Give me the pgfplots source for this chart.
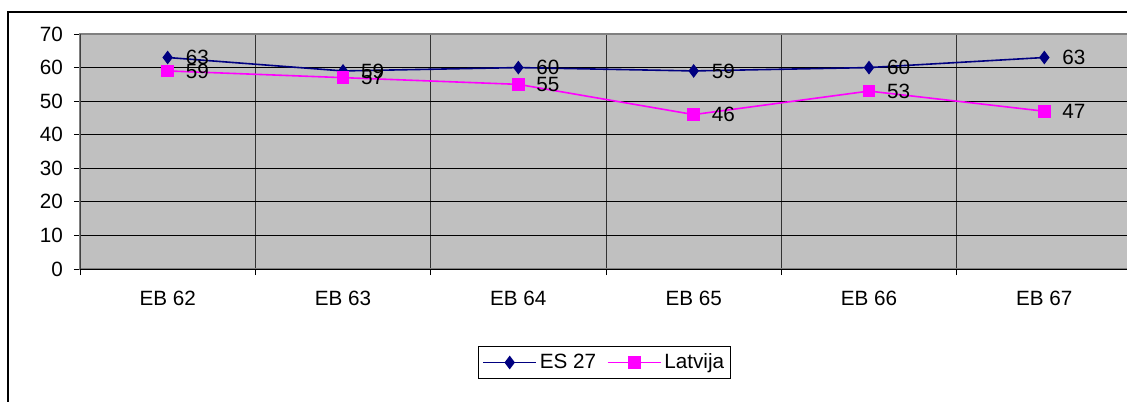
\documentclass[border=0pt]{standalone}
\usepackage{fontspec}
\setmainfont{Liberation Sans}
\usepackage{pgfplots}
\pgfplotsset{compat=1.18}
\definecolor{esblue}{HTML}{000080}
\definecolor{lvpink}{HTML}{FF00FF}
\definecolor{plotgray}{HTML}{C0C0C0}
\newcommand{\chartfont}{\fontsize{15.5}{18}\selectfont}
\begin{document}
\chartfont
\begin{tikzpicture}
\useasboundingbox (-60pt,-99pt) rectangle (785.25pt,201.75pt);
\clip (-60pt,-99pt) rectangle (785.25pt,201.75pt);
\draw[line width=1.5pt] (-54pt,-130pt) rectangle (800pt,192.75pt);
\begin{axis}[
  scale only axis, width=789pt, height=176.25pt,
  xmin=-0.5, xmax=5.5, ymin=0, ymax=70,
  xtick={0,...,5},
  xticklabels={EB 62,EB 63,EB 64,EB 65,EB 66,EB 67},
  minor xtick={-0.5,0.5,...,5.5},
  ytick={0,10,...,70},
  ymajorgrids, xminorgrids,
  major grid style={black, line width=0.75pt},
  minor grid style={black!80, line width=0.75pt},
  major x tick style={draw=none},
  tick align=outside, tick pos=left,
  major tick length=4.5pt, minor tick length=4.5pt,
  every tick/.style={black, line width=0.75pt},
  axis background/.style={fill=plotgray},
  axis line style={draw=gray, line width=1.5pt},
  tick label style={font=\chartfont},
  /pgf/number format/assume math mode=true,
  xticklabel style={yshift=-7pt},
  yticklabel style={xshift=-3pt},
  legend style={at={(0.4986,-0.398)}, anchor=center, draw=black, line width=0.75pt,
    font=\chartfont, inner xsep=3pt, inner ysep=3pt,
    /tikz/every even column/.append style={column sep=6pt}},
  legend columns=2,
  legend image code/.code={\draw[#1, mark repeat=2, mark phase=2] plot coordinates {(0pt,0pt) (20pt,0pt) (40pt,0pt)};},
  nodes near coords,
  nodes near coords style={anchor=west, inner sep=0pt, xshift=13pt, black, font=\chartfont},
]
\addplot[esblue, line width=1.2pt, mark=diamond*, mark size=4.2pt, mark options={solid, fill=esblue}] coordinates {
  (0,63) (1,59) (2,60) (3,59) (4,60) (5,63)};
\addlegendentry{ES 27}
\addplot[lvpink, line width=1.2pt, mark=square*, mark size=4.2pt, mark options={solid, fill=lvpink}] coordinates {
  (0,59) (1,57) (2,55) (3,46) (4,53) (5,47)};
\addlegendentry{Latvija}
\draw[black, line width=0.75pt] (rel axis cs:0,0) -- (rel axis cs:1,0);
\draw[black!75, line width=0.75pt] (rel axis cs:0,0) -- (rel axis cs:0,1);
\end{axis}
\end{tikzpicture}
\end{document}
